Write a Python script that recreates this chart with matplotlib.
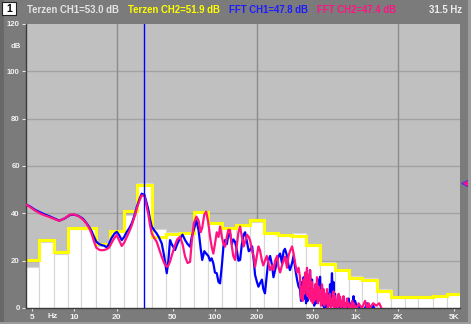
import matplotlib
matplotlib.use("Agg")
import matplotlib.pyplot as plt
import matplotlib.transforms as mtransforms
from matplotlib.patches import Rectangle
import numpy as np

# ---------------- data ----------------
band_centers = [5, 6.3, 8, 10, 12.5, 16, 20, 25, 31.5, 40, 50, 63, 80, 100, 125, 160,
                200, 250, 315, 400, 500, 630, 800, 1000, 1250, 1600, 2000, 2500, 3150,
                4000, 5000]
terz_ch1 = [17.2, 27.8, 22.7, 33.4, 33.4, 26.0, 32.0, 39.5, 53.0, 33.5, 32.0, 32.0, 40.0,
            35.8, 33.5, 34.8, 36.3, 31.5, 30.5, 31.8, 27.0, 19.5, 16.6, 13.5, 12.5, 8.2,
            4.3, 4.3, 4.3, 4.9, 5.6]
terz_ch2 = [20.3, 28.7, 23.7, 33.7, 33.7, 27.0, 32.7, 41.0, 51.9, 30.0, 31.2, 31.5, 40.4,
            36.1, 33.8, 35.0, 37.0, 31.8, 30.8, 30.6, 26.8, 18.4, 16.1, 12.5, 11.8, 7.1,
            4.6, 4.6, 4.6, 5.2, 5.9]

fft_freq = [4.5, 4.83, 5.2, 5.66, 6.1, 6.67, 7.2, 7.8, 8.5, 9.3, 10.0, 10.7, 11.5, 12.2,
            12.8, 13.3, 13.8, 14.3, 15.0, 15.6, 16.3, 17.0, 17.6, 18.3, 19.2, 20.0, 20.8,
            21.7, 22.6, 23.6, 24.6, 25.6, 26.7, 27.8, 29.0, 30.1, 31.5, 32.5, 33.6, 34.5,
            35.5, 37.0, 38.5, 40.0, 41.8, 43.5, 45.4, 46.6, 47.9, 49.2, 52, 53.9, 56.4,
            58.8, 61.3, 63.9, 66.5, 68.4, 70.7, 73.8, 76.4, 79.2, 81.2, 84, 86.6, 89.7,
            92.3, 94.7, 97.4, 100, 103, 106, 108.7, 112, 115, 118, 121.5, 124.5, 128, 132,
            135, 139, 143.5, 147, 151, 155.5, 160, 164, 169, 174, 178, 184, 189, 193, 199,
            204, 209, 216, 221, 227, 234, 240, 247, 255, 261, 268, 277, 284, 291, 300, 308,
            315, 326, 334, 342, 354, 363, 372, 384, 394,
            403, 410, 417, 422, 428, 433, 438, 445, 452, 457, 463, 469, 475, 483, 491, 497,
            503, 509, 516, 524, 533, 540, 546, 553, 560, 569, 578, 585, 593, 600, 608, 618,
            628, 636, 644, 651, 659, 670, 681, 689, 698, 707, 716, 728, 740, 749, 759, 768,
            777, 790, 803, 813, 823, 833, 843, 857, 871, 882, 893, 904, 915, 930, 946, 957,
            969, 981, 994,
            1027, 1053, 1078, 1114, 1142, 1171, 1210, 1241, 1270, 1336, 1405, 1478, 1554,
            1624]
fft_ch1 = [43.8, 42.9, 41.6, 40.5, 39.6, 38.7, 37.8, 36.9, 37.8, 39.3, 39.4, 38.9, 37.7,
           35.8, 34.0, 32.2, 30.0, 28.0, 27.0, 26.6, 26.3, 25.6, 27.0, 29.4, 31.3, 32.2,
           30.8, 28.7, 30.0, 32.2, 33.8, 35.8, 39.0, 42.8, 46.0, 48.3, 47.8, 44.8, 41.4,
           37.5, 34.4, 32.8, 31.5, 29.8, 27.3, 22.0, 14.7, 20, 28.7, 27, 24.5, 27, 29.4,
           31, 28.7, 27, 25.9, 30, 33, 37, 33, 25, 20.3, 24, 23, 22, 20, 21, 18.9, 15,
           14.7, 11, 10.4, 18, 26, 28.7, 27, 31, 31.5, 27, 29, 28, 24, 20, 20.3, 27, 31,
           32, 28, 24, 24.5, 26, 20, 14, 11, 9, 10.4, 12, 8, 6.2, 14, 20, 22, 18, 13, 16,
           20, 22, 23, 19, 24, 25, 22, 18, 16, 19, 22, 17, 12, 9,
           8, 3, 11, 5, 13, 4, 9, 2, 6, 3, 10, 5, 16, 6, 12, 3,
           7, 1, 5, 2, 8, 4, 12, 6, 13.2, 3, 9, 1, 5, 0, 3, 0,
           4, 1, 6, 2, 10, 5, 14.7, 3, 11, 1, 6, 0, 3, 0, 5, 0,
           4, -1, 1, -1, 2, -2, 0, -1, 1, -2, 4, -1, 2, -3, -1, -2,
           5, -1, 3,
           0, 1, 0, -2, -1, 0, 2, 0, -1, 1, -2, -3, -5,
           -8]
fft_ch2 = [43.8, 42.7, 41.3, 40.0, 39.2, 38.4, 37.6, 36.8, 37.9, 39.5, 39.5, 38.8, 37.4,
           35.6, 33.5, 31.0, 28.0, 25.5, 24.6, 24.4, 24.5, 24.9, 25.5, 27.3, 29.5, 30.8,
           28.6, 26.2, 27.6, 30.1, 32.4, 35.0, 38.4, 42.1, 45.3, 47.6, 47.4, 43.6, 39.3,
           35.0, 31.5, 29.5, 28.0, 25.0, 21.7, 19.0, 17.4, 18, 19.6, 22, 26.6, 29, 30.1,
           27, 21.7, 19, 19.5, 28, 35.8, 38.6, 37, 32, 34, 39.5, 40.7, 36, 30.1, 26, 23,
           27, 32, 30, 34.4, 30, 27, 25.9, 30, 33, 33, 26, 22, 20.3, 27, 32, 34.4, 30, 26,
           28, 31, 30, 28.5, 24, 21.7, 17.4, 22, 26, 24.5, 20, 18, 20, 22, 19, 16, 18, 16,
           20, 22, 17, 15, 18, 20, 21.7, 17, 22, 24, 26, 23, 19, 15, 17,
           13, 4, 9, 3, 12, 6, 15, 8, 17, 5, 14, 4, 16, 3, 11, 2,
           8, 3, 10, 4, 13, 2, 9, 3, 7.6, 1, 10, 2, 8, 1, 6, 2,
           8, 0, 5, 1, 6, 0, 4, 1, 7, 0, 5, 1, 3, 0, 6, 1,
           4.8, 0, 3, 1, 5, 0, 2, 0, 4, 1, 2, -1, 1, 0, 3, -1,
           2, 0, 1,
           0, 2, 1, 0, 1.5, 3, 0, 2, 0, 2, 1, 2, -1,
           -5]

cursor_freq = 31.5
header_labels = ["Terzen CH1=53.0 dB", "Terzen CH2=51.9 dB", "FFT CH1=47.8 dB",
                 "FFT CH2=47.4 dB"]
cursor_label = "31.5 Hz"
x_ticks = [5, 10, 20, 50, 100, 200, 500, 1000, 2000, 5000]
x_tick_labels = ["5", "10", "20", "50", "100", "200", "500", "1K", "2K", "5K"]
y_ticks = [0, 20, 40, 60, 80, 100, 120]
grid_x = [20, 200, 2000]
grid_y = [20, 40, 60, 80, 100]

assert len(fft_freq) == len(fft_ch1) == len(fft_ch2)

# ---------------- style ----------------
plt.rcParams['font.family'] = ['Liberation Sans', 'DejaVu Sans']
plt.rcParams['font.weight'] = 'bold'

W, H = 471, 324
fig = plt.figure(figsize=(W / 100, H / 100), dpi=100)
fig.patch.set_facecolor('#7b7b7b')

def px(x0, y0, w, h):
    return [x0 / W, 1 - (y0 + h) / H, w / W, h / H]

# decorative frame strips
fig.patches.append(Rectangle((0, 0), 4 / W, 1, transform=fig.transFigure,
                             facecolor='#686868', edgecolor='none', zorder=0))
fig.patches.append(Rectangle((468 / W, 0), 3 / W, 1, transform=fig.transFigure,
                             facecolor='#9c9c9c', edgecolor='none', zorder=0))
fig.patches.append(Rectangle((0, 0), 1, 2 / H, transform=fig.transFigure,
                             facecolor='#9c9c9c', edgecolor='none', zorder=0))

ax = fig.add_axes(px(26, 24, 434, 284))
ax.set_facecolor('#c0c0c0')
ax.set_xscale('log')
ax.set_xlim(4.52, 5550)
ax.set_ylim(0, 120)

for y in grid_y:
    ax.axhline(y, color='#a2a2a2', lw=1.0, zorder=0.5)
for x in grid_x:
    ax.axvline(x, color='#8c8c8c', lw=1.0, zorder=0.5)

c = np.array(band_centers, dtype=float)
edges = np.concatenate([[c[0] / 2 ** (1 / 6)], np.sqrt(c[:-1] * c[1:]), [c[-1] * 2 ** (1 / 6)]])
ax.bar(edges[:-1], terz_ch1, width=np.diff(edges), align='edge', color='white',
       edgecolor='#d6d6d6', linewidth=0.8, zorder=1)
ax.step(edges, np.append(terz_ch2, terz_ch2[-1]), where='post', color='#ffff00',
        lw=2.2, zorder=2, solid_joinstyle='miter')

ax.plot(fft_freq, fft_ch1, color='#0000ff', lw=1.6, zorder=3)
ax.plot(fft_freq, fft_ch2, color='#ff1482', lw=1.6, zorder=4)
ax.axvline(cursor_freq, color='#0000ff', lw=1.0, zorder=5)

for s in ['top', 'right']:
    ax.spines[s].set_visible(False)
for s in ['left', 'bottom']:
    ax.spines[s].set_color('#3c3c3c')
    ax.spines[s].set_linewidth(1.0)

ax.set_xticks(x_ticks)
ax.set_xticklabels(x_tick_labels)
ax.xaxis.set_minor_locator(matplotlib.ticker.NullLocator())
ax.set_yticks(y_ticks)
ax.set_yticklabels([str(v) for v in y_ticks])
ax.tick_params(axis='x', colors='#e6e6e6', labelsize=6.0, length=2.5, width=0.8, pad=1.5)
ax.tick_params(axis='y', colors='#e6e6e6', labelsize=5.6, length=3, width=0.8, pad=1.5)
for lab in ax.get_xticklabels() + ax.get_yticklabels():
    lab.set_color('#f2f2f2')
    lab.set_fontweight('bold')

ax.text(-0.012, 110.5, "dB", transform=mtransforms.blended_transform_factory(ax.transAxes, ax.transData),
        ha='right', va='center', fontsize=5.6, color='#f2f2f2', fontweight='bold')
ax.text(6.95, -2.2, "Hz", ha='center', va='top', fontsize=6.0, color='#f2f2f2',
        fontweight='bold', clip_on=False)

# right-edge level marker
tr = mtransforms.blended_transform_factory(ax.transAxes, ax.transData)
ax.plot([1.013], [53.0], marker='<', ms=6.5, color='#ff1482', mec='#3030ff', mew=0.6,
        transform=tr, clip_on=False, zorder=6)

# header
fig.patches.append(Rectangle((2 / W, 1 - 15 / H), 14 / W, 13 / H, transform=fig.transFigure,
                             facecolor='white', edgecolor='#202020', lw=0.8, zorder=2))
fig.text(9 / W, 1 - 8.5 / H, "1", ha='center', va='center', fontsize=7.5,
         color='black', fontweight='bold')
header_x = [27, 128, 229, 317]
header_colors = ['#e4e4e4', '#ffff00', '#1c1cff', '#ff1482']
for xx, txt, col in zip(header_x, header_labels, header_colors):
    fig.text(xx / W, 1 - 13 / H, txt, ha='left', va='baseline', fontsize=6.9,
             color=col, fontweight='bold')
fig.text(462 / W, 1 - 13 / H, cursor_label, ha='right', va='baseline', fontsize=6.9,
         color='#ececec', fontweight='bold')

fig.savefig('out.png', dpi=100, facecolor=fig.get_facecolor())
